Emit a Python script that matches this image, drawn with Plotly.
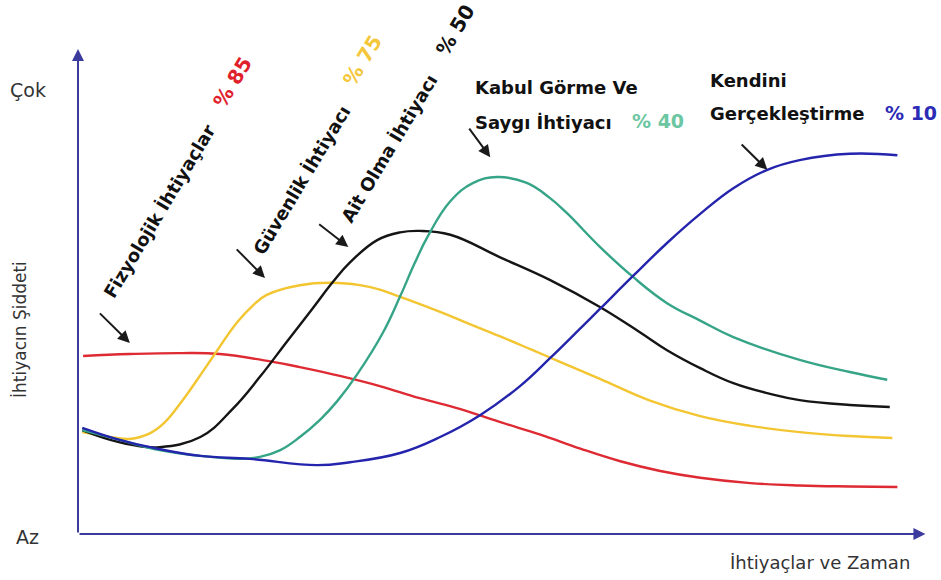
import plotly.graph_objects as go

# ---- Data (time 0..100, intensity 0..100) ----
red_x = [0.6, 6.1, 12.0, 16.7, 22.9, 26.1, 30.8, 35.5, 40.2, 44.9, 49.6, 54.4, 59.1, 63.8, 68.5, 73.2, 79.1, 84.9, 90.8, 96.4]
red_y = [36.7, 37.1, 37.3, 37.1, 35.5, 34.4, 32.6, 30.5, 28.0, 25.8, 23.1, 20.5, 17.6, 15.0, 13.0, 11.6, 10.5, 10.0, 9.8, 9.7]

yellow_x = [0.5, 3.8, 6.1, 8.5, 10.2, 12.4, 14.1, 15.9, 18.7, 20.5, 22.2, 26.1, 30.0, 34.4, 37.9, 42.6, 45.8, 49.6, 53.5, 56.7, 61.4, 67.3, 73.2, 79.1, 84.9, 90.8, 95.8]
yellow_y = [21.0, 20.0, 19.6, 20.8, 23.0, 27.8, 32.0, 36.6, 43.6, 47.0, 49.3, 51.3, 51.8, 50.9, 48.9, 45.8, 43.5, 40.8, 37.9, 35.5, 32.0, 27.5, 24.3, 22.3, 21.0, 20.2, 19.8]

black_x = [0.5, 3.8, 7.3, 9.6, 14.4, 18.2, 21.4, 24.5, 27.6, 30.0, 32.0, 35.2, 37.9, 40.2, 43.8, 49.6, 55.5, 61.4, 66.1, 69.3, 73.2, 77.1, 81.4, 84.9, 90.8, 95.5]
black_y = [21.4, 19.4, 18.1, 17.9, 20.0, 25.8, 32.4, 39.5, 46.5, 52.0, 56.0, 60.6, 62.2, 62.5, 61.7, 57.1, 52.4, 46.8, 41.6, 37.9, 34.2, 31.1, 28.9, 27.6, 26.6, 26.2]

teal_x = [0.5, 4.9, 9.6, 14.4, 19.1, 21.4, 23.8, 26.1, 28.5, 30.5, 32.8, 35.9, 37.9, 39.6, 41.1, 43.8, 46.5, 49.3, 52.8, 55.5, 57.5, 61.4, 65.3, 69.3, 73.2, 77.1, 84.9, 90.8, 95.2]
teal_y = [21.4, 19.4, 17.3, 16.1, 15.5, 15.9, 17.3, 20.0, 23.6, 27.4, 32.8, 41.6, 49.0, 55.8, 61.2, 68.6, 72.4, 73.6, 72.4, 69.3, 66.2, 59.2, 53.0, 47.6, 44.0, 40.6, 35.9, 33.4, 31.8]

blue_x = [0.5, 4.9, 8.5, 14.4, 20.2, 28.1, 32.0, 37.9, 42.6, 47.3, 52.0, 55.5, 59.1, 61.4, 65.3, 69.3, 73.2, 77.1, 81.1, 84.9, 90.8, 96.4]
blue_y = [21.9, 19.4, 17.9, 16.1, 15.5, 14.2, 14.8, 16.7, 20.0, 24.5, 30.5, 36.2, 42.4, 46.4, 53.2, 60.0, 66.0, 71.3, 75.1, 77.1, 78.4, 78.1]

series = [
    ("Fizyolojik", red_x, red_y, "#dd2a33"),
    ("Güvenlik", yellow_x, yellow_y, "#f2c531"),
    ("Ait Olma", black_x, black_y, "#151515"),
    ("Kabul", teal_x, teal_y, "#36a487"),
    ("Kendini", blue_x, blue_y, "#2424ad"),
]

# Rotated need labels
rot_labels = ["Fizyolojik İhtiyaçlar", "Güvenlik İhtiyacı", "Ait Olma İhtiyacı"]
rot_pcts = ["% 85", "% 75", "% 50"]
rot_colors = ["#e0202a", "#f4c63a", "#111111"]

fig = go.Figure()
for name, xs, ys, col in series:
    fig.add_trace(go.Scatter(x=xs, y=ys, mode="lines", name=name,
                             line=dict(color=col, width=2.4, shape="spline", smoothing=1.2),
                             hoverinfo="skip"))

ann = []
bold = dict(family="DejaVu Sans", size=18, color="#111111")
reg = dict(family="DejaVu Sans", size=18, color="#333333")

# axes as arrows
ann.append(dict(x=0, y=100, ax=0, ay=0, xref="x", yref="y", axref="x", ayref="y",
                text="", showarrow=True, arrowhead=2, arrowsize=1.2, arrowwidth=2, arrowcolor="#3b3b9e"))
ann.append(dict(x=99.7, y=0, ax=0, ay=0, xref="x", yref="y", axref="x", ayref="y",
                text="", showarrow=True, arrowhead=2, arrowsize=1.2, arrowwidth=2, arrowcolor="#3b3b9e"))

# axis texts
ann.append(dict(x=-5.9, y=91.5, text="Çok", showarrow=False,
                font=dict(family="DejaVu Sans", size=19, color="#333333")))
ann.append(dict(x=-6.0, y=-0.6, text="Az", showarrow=False,
                font=dict(family="DejaVu Sans", size=19, color="#333333")))
ann.append(dict(x=-6.8, y=42.1, text="İhtiyacın Şiddeti", textangle=-90, showarrow=False,
                font=dict(family="DejaVu Sans", size=17, color="#333333")))
ann.append(dict(x=87.3, y=-5.8, text="İhtiyaçlar ve Zaman", showarrow=False, font=reg))

# rotated labels
rot_pos = [(9.6, 66.4), (26.4, 73.0), (36.7, 79.6)]
pct_pos = [(18.2, 93.2), (33.5, 97.7), (44.4, 103.9)]
for t, p, c, (lx, ly), (px, py) in zip(rot_labels, rot_pcts, rot_colors, rot_pos, pct_pos):
    ann.append(dict(x=lx, y=ly, text="<b>" + t + "</b>", textangle=-59, showarrow=False, font=bold))
    ann.append(dict(x=px, y=py, text="<b>" + p + "</b>", textangle=-59, showarrow=False,
                    font=dict(family="DejaVu Sans", size=20, color=c)))

# horizontal labels
ann.append(dict(x=46.5, y=92.0, text="<b>Kabul Görme Ve</b>", xanchor="left", showarrow=False, font=bold))
ann.append(dict(x=46.5, y=84.9, text="<b>Saygı İhtiyacı</b>", xanchor="left", showarrow=False, font=bold))
ann.append(dict(x=64.9, y=85.2, text="<b>% 40</b>", xanchor="left", showarrow=False,
                font=dict(family="DejaVu Sans", size=19, color="#6cc6a2")))
ann.append(dict(x=74.1, y=93.6, text="<b>Kendini</b>", xanchor="left", showarrow=False, font=bold))
ann.append(dict(x=74.1, y=86.6, text="<b>Gerçekleştirme</b>", xanchor="left", showarrow=False, font=bold))
ann.append(dict(x=94.7, y=86.8, text="<b>% 10</b>", xanchor="left", showarrow=False,
                font=dict(family="DejaVu Sans", size=19, color="#2b2bb5")))

# pointer arrows (tail -> head)
arrows = [((2.4, 45.8), (6.1, 39.4)), ((18.5, 59.0), (22.0, 52.8)), ((28.2, 64.1), (31.8, 59.2)),
          ((45.9, 83.9), (48.5, 77.7)), ((77.9, 80.6), (81.1, 75.1))]
for (tx, ty), (hx, hy) in arrows:
    ann.append(dict(x=hx, y=hy, ax=tx, ay=ty, xref="x", yref="y", axref="x", ayref="y",
                    text="", showarrow=True, arrowhead=2, arrowsize=1.2, arrowwidth=2, arrowcolor="#1a1a1a"))

for a in ann:
    a.setdefault("xref", "x")
    a.setdefault("yref", "y")

fig.update_layout(
    width=941, height=580, autosize=False,
    margin=dict(l=0, r=0, t=0, b=0, pad=0),
    paper_bgcolor="white", plot_bgcolor="white",
    showlegend=False,
    xaxis=dict(visible=False, range=[-78 / 8.5, (941 - 78) / 8.5], fixedrange=True),
    yaxis=dict(visible=False, range=[(534 - 580) / 4.85, 534 / 4.85], fixedrange=True),
    annotations=ann,
)

fig.write_html("out.html")
